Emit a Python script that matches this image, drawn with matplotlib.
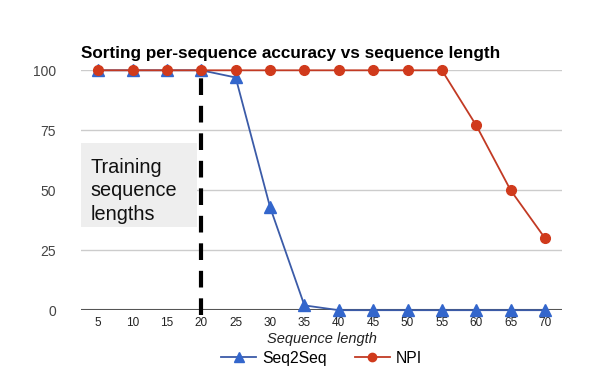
import matplotlib
matplotlib.use('Agg')
import matplotlib.pyplot as plt
from matplotlib.patches import Rectangle
from matplotlib.lines import Line2D

plt.rcParams['font.family'] = ['Liberation Sans', 'DejaVu Sans']

lengths = [5, 10, 15, 20, 25, 30, 35, 40, 45, 50, 55, 60, 65, 70]
seq2seq = [100, 100, 100, 100, 97, 43, 2, 0, 0, 0, 0, 0, 0, 0]
npi = [100, 100, 100, 100, 100, 100, 100, 100, 100, 100, 100, 77, 50, 30]
y_ticks = [0, 25, 50, 75, 100]
train_max = 20

blue = '#3366cc'
blue_line = '#3b5ba8'
red = '#d03a1c'
red_line = '#c23a24'

fig = plt.figure(figsize=(6, 3.82), dpi=100)
ax = fig.add_axes([0.135, 0.188, 0.802, 0.628])

xs = list(range(len(lengths)))

# grid and baseline
for t in y_ticks[1:]:
    ax.axhline(t, color='#cccccc', lw=1, zorder=0)
ax.axhline(0, color='#555555', lw=1.5, zorder=1)

ax.plot(xs, seq2seq, color=blue_line, marker='^', markersize=8.5, mfc=blue, mec=blue,
        lw=1.3, zorder=3, clip_on=False)
ax.plot(xs, npi, color=red_line, marker='o', markersize=7, mfc=red, mec=red,
        lw=1.3, zorder=4, clip_on=False)

# training boundary
ti = lengths.index(train_max)
ax.plot([ti, ti], [-2, 99], color='black', lw=3, dashes=(4, 2.6), zorder=5, clip_on=False)

# training label box
ax.add_patch(Rectangle((-0.5, 34.5), 3.38, 35, facecolor='#eeeeee', edgecolor='none', zorder=2))
ax.text(-0.22, 49.8, 'Training\nsequence\nlengths', fontsize=14.3, va='center', ha='left',
        linespacing=1.3, color='#111111', zorder=6)

ax.set_xlim(-0.5, len(lengths) - 0.5)
ax.set_ylim(0, 100)
ax.set_xticks(xs)
ax.set_xticklabels([str(v) for v in lengths], fontsize=8.5, color='#222222')
ax.set_yticks(y_ticks)
ax.set_yticklabels([str(v) for v in y_ticks], fontsize=10, color='#444444')
ax.tick_params(length=0, pad=5)
ax.tick_params(axis='y', pad=18)
for s in ax.spines.values():
    s.set_visible(False)

ax.set_xlabel('Sequence length', fontsize=10.5, style='italic', color='#222222', labelpad=2)
fig.text(0.135, 0.84, 'Sorting per-sequence accuracy vs sequence length', fontsize=12.3,
         fontweight='bold', ha='left', va='bottom')

handles = [
    Line2D([], [], color=blue_line, lw=1.3, marker='^', markersize=7, mfc=blue, mec=blue),
    Line2D([], [], color=red_line, lw=1.3, marker='o', markersize=6, mfc=red, mec=red),
]
ax.legend(handles, ['Seq2Seq', 'NPI'], loc='upper center', bbox_to_anchor=(0.5, -0.11),
          ncol=2, frameon=False, fontsize=11.3, handlelength=2.2, columnspacing=1.8,
          handletextpad=0.4)

fig.savefig('out.png', dpi=100)
